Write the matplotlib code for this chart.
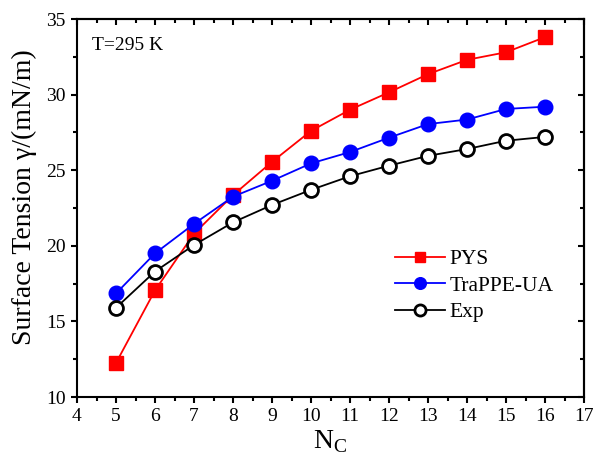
import matplotlib
matplotlib.use("Agg")
import matplotlib.pyplot as plt
from matplotlib.ticker import MultipleLocator

plt.rcParams['font.family'] = ['Liberation Serif', 'DejaVu Serif']
plt.rcParams['mathtext.fontset'] = 'custom'
plt.rcParams['mathtext.rm'] = 'Liberation Serif'

nc = [5, 6, 7, 8, 9, 10, 11, 12, 13, 14, 15, 16]
pys = [12.25, 17.05, 20.8, 23.35, 25.55, 27.6, 29.0, 30.15, 31.35, 32.3, 32.8, 33.8]
trappe = [16.85, 19.5, 21.45, 23.25, 24.3, 25.45, 26.2, 27.15, 28.05, 28.35, 29.05, 29.2]
exp = [15.9, 18.3, 20.05, 21.55, 22.7, 23.7, 24.6, 25.3, 25.95, 26.4, 26.95, 27.2]

fig = plt.figure(figsize=(5.94, 4.57), dpi=100)
ax = fig.add_axes([77/594, 1 - 397/457, (584-77)/594, (397-19)/457])

ax.plot(nc, pys, color='red', marker='s', markersize=9.5, lw=1.3, label='PYS')
ax.plot(nc, trappe, color='blue', marker='o', markersize=10.5, lw=1.3, label='TraPPE-UA')
ax.plot(nc, exp, color='black', marker='o', markersize=10, markerfacecolor='white',
        markeredgecolor='black', markeredgewidth=2, lw=1.3, label='Exp')

ax.set_xlim(4, 17)
ax.set_ylim(10, 35)
ax.xaxis.set_major_locator(MultipleLocator(1))
ax.xaxis.set_minor_locator(MultipleLocator(0.5))
ax.yaxis.set_major_locator(MultipleLocator(5))
ax.yaxis.set_minor_locator(MultipleLocator(2.5))
ax.tick_params(which='both', direction='out', labelsize=14, width=1.5)
ax.tick_params(which='major', length=4.5)
ax.tick_params(which='minor', length=2.8)
for s in ax.spines.values():
    s.set_linewidth(1.5)

# inward ticks on top and right
top = ax.secondary_xaxis('top')
top.xaxis.set_major_locator(MultipleLocator(1))
top.xaxis.set_minor_locator(MultipleLocator(0.5))
top.tick_params(which='both', direction='in', labeltop=False, width=1.5)
top.tick_params(which='major', length=4.5)
top.tick_params(which='minor', length=2.8)
right = ax.secondary_yaxis('right')
right.yaxis.set_major_locator(MultipleLocator(5))
right.yaxis.set_minor_locator(MultipleLocator(2.5))
right.tick_params(which='both', direction='in', labelright=False, width=1.5)
right.tick_params(which='major', length=4.5)
right.tick_params(which='minor', length=2.8)
for sec in (top, right):
    for s in sec.spines.values():
        s.set_linewidth(1.5)

ax.set_ylabel('Surface Tension γ/(mN/m)', fontsize=20)
ax.yaxis.set_label_coords(-0.079, 0.53)
ax.set_xlabel(r'N$_\mathrm{C}$', fontsize=20, labelpad=2)
ax.text(0.03, 0.93, 'T=295 K', transform=ax.transAxes, fontsize=14, va='center')

ax.legend(loc='center left', bbox_to_anchor=(0.628, 0.294), frameon=False, fontsize=15.5,
          handlelength=2.3, handletextpad=0.2, labelspacing=0.3, markerscale=0.8,
          borderaxespad=0, borderpad=0)

fig.savefig('out.png', dpi=100)
